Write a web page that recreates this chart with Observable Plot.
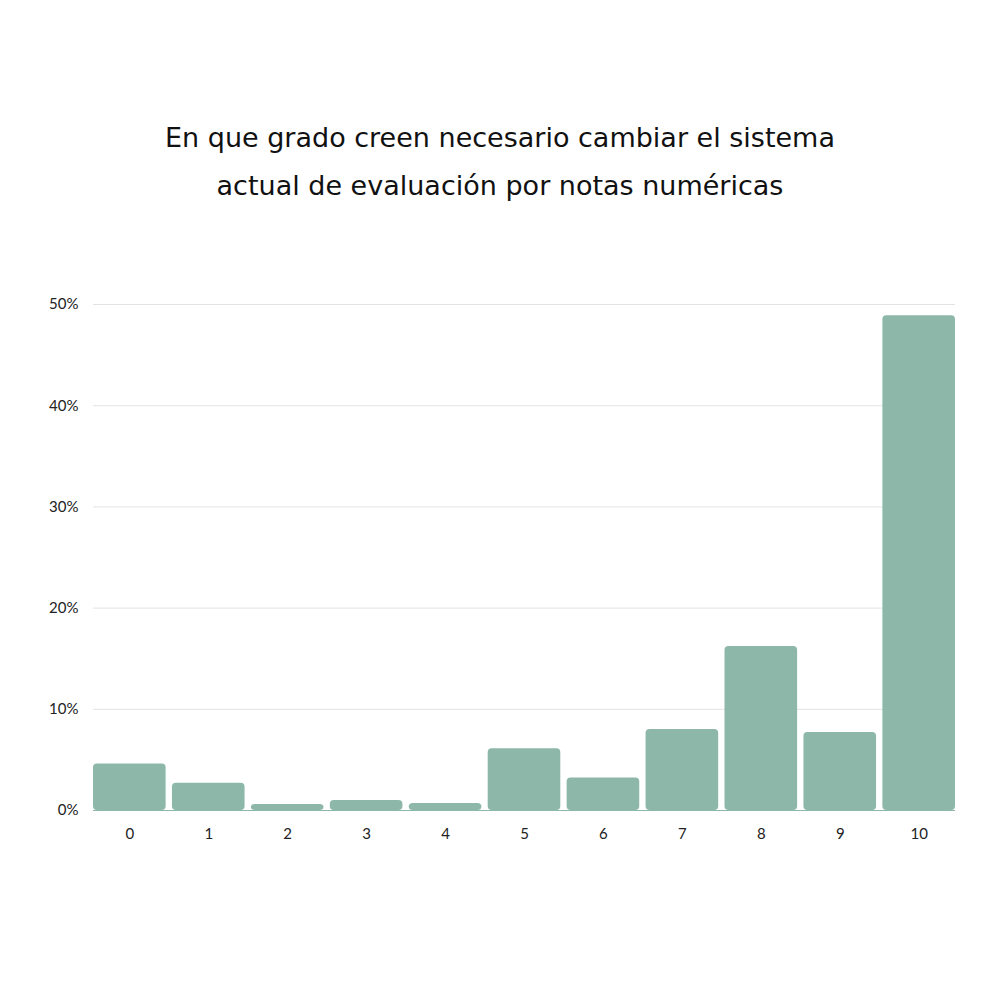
<!DOCTYPE html>
<html>
<head>
<meta charset="utf-8">
<script src="https://cdn.jsdelivr.net/npm/d3@7"></script>
<script src="https://cdn.jsdelivr.net/npm/@observablehq/plot@0.6"></script>
<style>
  html, body { margin: 0; padding: 0; background: #fff; }
  #title { height: 260px; box-sizing: border-box; padding-top: 114px; text-align: center;
    font-family: "DejaVu Sans", sans-serif; font-size: 27px; line-height: 48px; color: #111; }
</style>
</head>
<body>
<div id="title">En que grado creen necesario cambiar el sistema<br>actual de evaluación por notas numéricas</div>
<div id="chart"></div>
<script>
const categories = ["0", "1", "2", "3", "4", "5", "6", "7", "8", "9", "10"];
const values = [4.6, 2.7, 0.6, 1.0, 0.7, 6.1, 3.2, 8.0, 16.2, 7.7, 48.9];
const yTicks = [0, 10, 20, 30, 40, 50];

const data = categories.map((c, i) => ({grade: c, pct: values[i]}));

const chart = Plot.plot({
  width: 1000,
  height: 600,
  marginTop: 44,
  marginBottom: 50,
  marginLeft: 93,
  marginRight: 45,
  style: {fontFamily: "Lato, sans-serif", fontSize: "15px", color: "#222", background: "#fff"},
  x: {domain: categories, paddingInner: 0.08, paddingOuter: 0, round: false, label: null, tickSize: 0, tickPadding: 18},
  y: {domain: [0, 50], ticks: yTicks, tickFormat: d => d + "%", label: null, tickSize: 0, tickPadding: 15},
  marks: [
    Plot.ruleY(yTicks.filter(d => d > 0), {stroke: "#e3e3e3", strokeWidth: 1}),
    Plot.barY(data, {x: "grade", y: "pct", fill: "#8db8a9", rx: 4}),
    Plot.ruleY([0], {stroke: "#8db8a9", strokeWidth: 1})
  ]
});
document.getElementById("chart").appendChild(chart);
</script>
</body>
</html>
